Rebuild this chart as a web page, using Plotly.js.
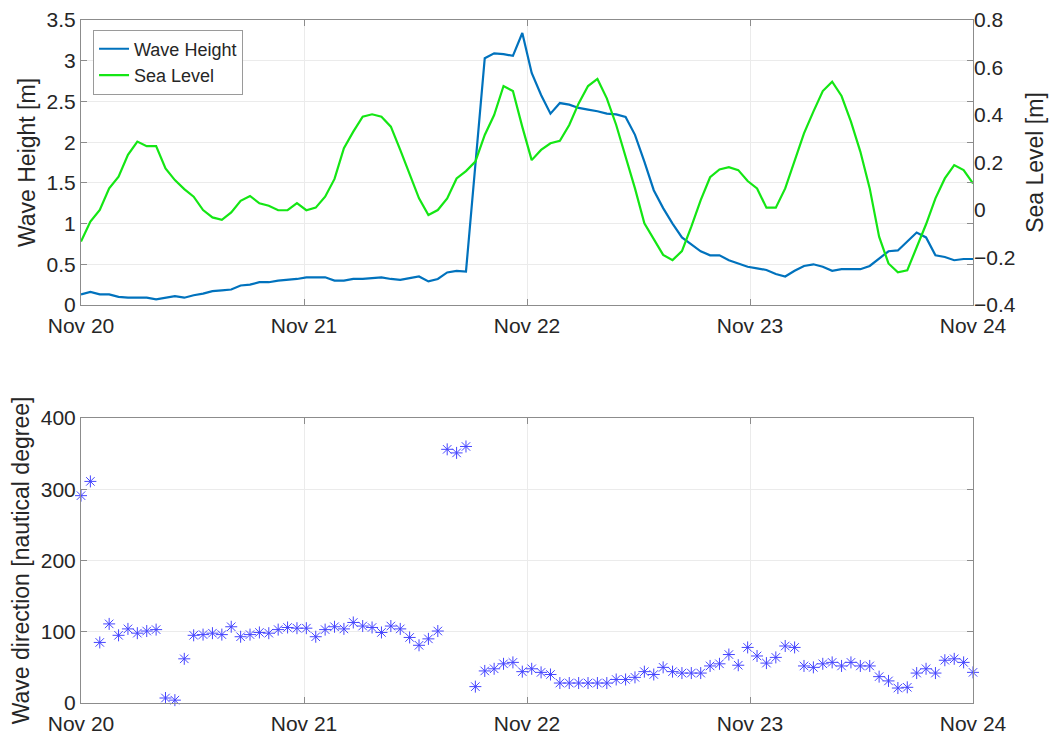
<!DOCTYPE html>
<html>
<head>
<meta charset="utf-8">
<script src="https://cdn.plot.ly/plotly-3.0.1.min.js"></script>
<style>
  html, body { margin: 0; padding: 0; background: #ffffff; }
  #chart { width: 1055px; height: 736px; }
</style>
</head>
<body>
<div id="chart"></div>
<script>
// ---- Data (96 samples evenly spread from Nov 20 00:00 to Nov 24 00:00) ----
const startTime = '2023-11-20T00:00:00';
const endTime = '2023-11-24T00:00:00';
const sampleCount = 96;

const waveHeight = [
  0.13, 0.16, 0.13, 0.13, 0.10, 0.09, 0.09, 0.09, 0.07, 0.09,
  0.11, 0.09, 0.12, 0.14, 0.17, 0.18, 0.19, 0.24, 0.25, 0.28,
  0.28, 0.30, 0.31, 0.32, 0.34, 0.34, 0.34, 0.30, 0.30, 0.32,
  0.32, 0.33, 0.34, 0.32, 0.31, 0.33, 0.35, 0.29, 0.32, 0.40,
  0.42, 0.41, 1.72, 3.03, 3.09, 3.08, 3.06, 3.34, 2.85, 2.58,
  2.35, 2.48, 2.46, 2.42, 2.40, 2.38, 2.35, 2.34, 2.31, 2.09,
  1.76, 1.41, 1.19, 1.00, 0.83, 0.74, 0.66, 0.61, 0.61, 0.55,
  0.51, 0.47, 0.45, 0.43, 0.38, 0.35, 0.42, 0.48, 0.50, 0.47,
  0.42, 0.44, 0.44, 0.44, 0.48, 0.57, 0.66, 0.67, 0.78, 0.89,
  0.83, 0.61, 0.59, 0.55, 0.565, 0.565
];

const seaLevel = [
  -0.133, -0.049, 0.000, 0.091, 0.140, 0.232, 0.288, 0.269, 0.269, 0.175,
  0.126, 0.088, 0.056, 0.000, -0.031, -0.041, -0.010, 0.039, 0.059, 0.028,
  0.018, -0.001, -0.001, 0.029, -0.001, 0.010, 0.056, 0.131, 0.260, 0.330,
  0.393, 0.403, 0.393, 0.351, 0.253, 0.154, 0.049, -0.021, 0.000, 0.049,
  0.133, 0.164, 0.204, 0.316, 0.400, 0.522, 0.501, 0.350, 0.210, 0.253,
  0.281, 0.291, 0.358, 0.449, 0.522, 0.552, 0.470, 0.358, 0.225, 0.091,
  -0.056, -0.122, -0.189, -0.211, -0.173, -0.070, 0.042, 0.138, 0.171, 0.180,
  0.168, 0.122, 0.091, 0.010, 0.010, 0.091, 0.204, 0.323, 0.414, 0.501,
  0.540, 0.480, 0.372, 0.246, 0.091, -0.112, -0.225, -0.262, -0.254, -0.161,
  -0.060, 0.049, 0.133, 0.189, 0.168, 0.112
];

const waveDirection = [
  291, 311, 85, 111, 95, 104, 98, 101, 103, 7,
  4, 62, 95, 96, 98, 96, 107, 93, 96, 99,
  98, 103, 106, 105, 105, 93, 103, 107, 104, 113,
  108, 106, 99, 108, 104, 92, 81, 90, 101, 356,
  351, 360, 23, 45, 48, 55, 57, 44, 48, 43,
  40, 28, 28, 28, 28, 28, 28, 33, 33, 36,
  44, 40, 50, 44, 42, 42, 42, 52, 55, 68,
  53, 78, 66, 56, 64, 80, 78, 52, 50, 55,
  57, 52, 57, 52, 52, 37, 31, 21, 22, 42,
  48, 42, 60, 62, 57, 43
];

const dayTicks = ['2023-11-20', '2023-11-21', '2023-11-22', '2023-11-23', '2023-11-24'];
const dayTickLabels = ['Nov 20', 'Nov 21', 'Nov 22', 'Nov 23', 'Nov 24'];

// sample times: evenly spaced over the plotted window
const t0 = new Date(startTime + 'Z').getTime();
const t1 = new Date(endTime + 'Z').getTime();
const times = [];
for (let i = 0; i < sampleCount; i++) {
  const t = new Date(t0 + (t1 - t0) * i / (sampleCount - 1));
  times.push(t.toISOString().replace('Z', ''));
}

// ---- Styling ----
const FONT = 'Arial, "Liberation Sans", Helvetica, sans-serif';
const TEXT = '#262626';
const AXIS = '#8c8c8c';
const GRID = '#ebebeb';

const xCommon = {
  type: 'date',
  range: [startTime, endTime],
  tickmode: 'array',
  tickvals: dayTicks,
  ticktext: dayTickLabels,
  ticks: 'inside',
  ticklen: 6,
  tickcolor: AXIS,
  ticklabelstandoff: 2,
  showline: true,
  linecolor: AXIS,
  linewidth: 1,
  mirror: 'ticks',
  showgrid: true,
  gridcolor: GRID,
  zeroline: false,
  tickfont: {family: FONT, size: 21, color: TEXT},
  fixedrange: true
};

const traces = [
  {
    x: times, y: waveHeight, name: 'Wave Height',
    type: 'scatter', mode: 'lines',
    line: {color: '#0072BD', width: 2.2},
    xaxis: 'x', yaxis: 'y'
  },
  {
    x: times, y: seaLevel, name: 'Sea Level',
    type: 'scatter', mode: 'lines',
    line: {color: '#14e614', width: 2.2},
    xaxis: 'x', yaxis: 'y2'
  },
  {
    x: times, y: waveDirection, name: 'Wave direction',
    type: 'scatter', mode: 'markers',
    cliponaxis: false,
    marker: {symbol: 'asterisk-open', size: 10, color: '#4545ff',
             line: {color: '#4545ff', width: 1}},
    showlegend: false,
    xaxis: 'x2', yaxis: 'y3'
  }
];

const layout = {
  width: 1055, height: 736,
  margin: {l: 81, r: 82, t: 20, b: 33, pad: 0},
  paper_bgcolor: '#ffffff',
  plot_bgcolor: '#ffffff',
  font: {family: FONT, color: TEXT},
  showlegend: true,
  legend: {
    x: 0.0135, y: 0.986, xanchor: 'left', yanchor: 'top',
    bgcolor: '#ffffff', bordercolor: '#9a9a9a', borderwidth: 1,
    font: {family: FONT, size: 18, color: TEXT},
    tracegroupgap: 0, itemwidth: 30, valign: 'middle'
  },
  xaxis: Object.assign({}, xCommon, {domain: [0, 1], anchor: 'y'}),
  yaxis: {
    domain: [0.5827, 1],
    anchor: 'x',
    range: [0, 3.5],
    tickmode: 'linear', tick0: 0, dtick: 0.5,
    ticks: 'inside', ticklen: 6, tickcolor: AXIS,
    showline: true, linecolor: AXIS, linewidth: 1, mirror: 'ticks',
    showgrid: true, gridcolor: GRID, zeroline: false,
    tickfont: {family: FONT, size: 21, color: TEXT},
    title: {text: 'Wave Height [m]', font: {family: FONT, size: 23, color: TEXT}, standoff: 4},
    fixedrange: true
  },
  yaxis2: {
    overlaying: 'y',
    side: 'right',
    anchor: 'x',
    range: [-0.4, 0.8],
    tickmode: 'linear', tick0: -0.4, dtick: 0.2,
    ticks: '', showline: false,
    showgrid: false, zeroline: false,
    tickfont: {family: FONT, size: 21, color: TEXT},
    title: {text: 'Sea Level [m]', font: {family: FONT, size: 23, color: TEXT}, standoff: 12},
    fixedrange: true
  },
  xaxis2: Object.assign({}, xCommon, {domain: [0, 1], anchor: 'y3'}),
  yaxis3: {
    domain: [0, 0.4173],
    anchor: 'x2',
    range: [0, 400],
    tickmode: 'linear', tick0: 0, dtick: 100,
    ticks: 'inside', ticklen: 6, tickcolor: AXIS,
    showline: true, linecolor: AXIS, linewidth: 1, mirror: 'ticks',
    showgrid: true, gridcolor: GRID, zeroline: false,
    tickfont: {family: FONT, size: 21, color: TEXT},
    title: {text: 'Wave direction [nautical degree]', font: {family: FONT, size: 23, color: TEXT}, standoff: 4},
    fixedrange: true
  }
};

Plotly.newPlot('chart', traces, layout, {displayModeBar: false, staticPlot: true});
</script>
</body>
</html>
